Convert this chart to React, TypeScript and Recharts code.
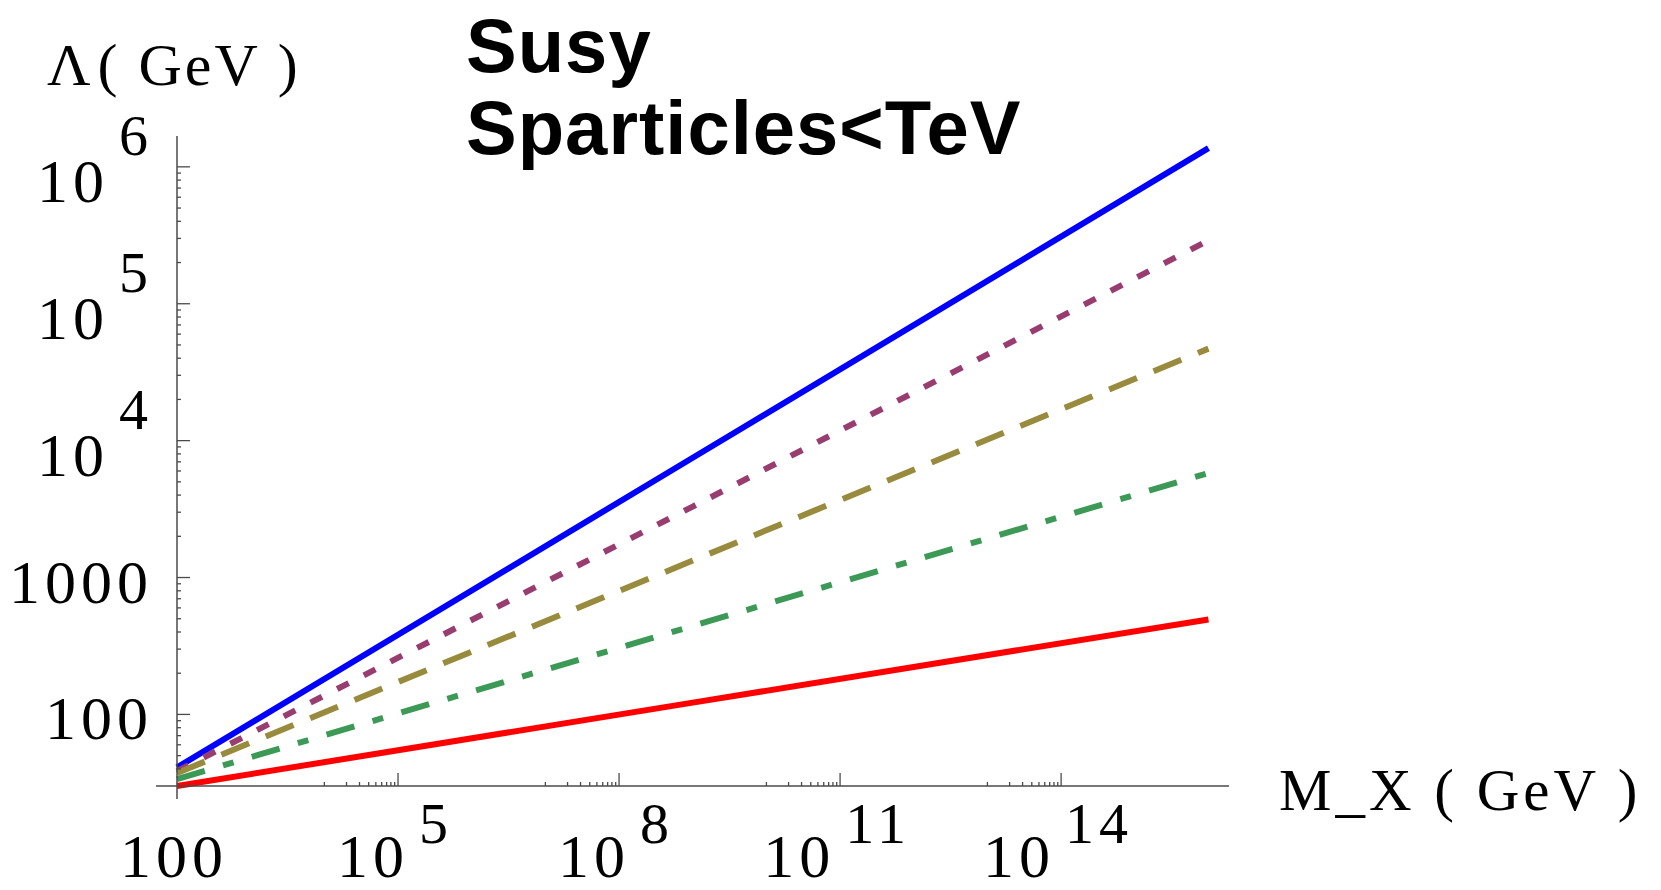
import { LineChart, Line, XAxis, YAxis } from "recharts";

// M_X (GeV) sample points and Λ (GeV) values
const mx = [1e2, 1e9, 1e16];
const blue = [41, 7.5e3, 1.37e6];
const purple = [38.5, 3.3e3, 2.9e5];
const olive = [37.3, 1.33e3, 4.7e4];
const green = [33.7, 443, 5.8e3];
const red = [30, 122, 494];

const xLabels = [100, 1e5, 1e8, 1e11, 1e14];
const xMajor = [1e5, 1e8, 1e11, 1e14];
const xMinorDecades = [1e4, 1e7, 1e10, 1e13];
const yLabels = [100, 1000, 1e4, 1e5, 1e6];
const yMinorDecades = [10, 100, 1000, 1e4, 1e5];
const steps = [1, 2, 3, 4, 5, 6, 7, 8, 9];

const X_DOMAIN = [100, 1.9e16];
const Y_DOMAIN = [30, 1.68e6];

const xTicks = [
  ...xLabels,
  ...xMinorDecades.flatMap((d) => steps.map((k) => d * k)).filter((v) => !xMajor.includes(v)),
].sort((a, b) => a - b);

const yTicks = [
  30,
  ...yLabels,
  ...yMinorDecades.flatMap((d) => steps.slice(1).map((k) => d * k)),
]
  .filter((v) => v >= Y_DOMAIN[0] && v <= Y_DOMAIN[1])
  .filter((v, i, a) => a.indexOf(v) === i)
  .sort((a, b) => a - b);

const data = mx.map((m, i) => ({
  mx: m,
  blue: blue[i],
  purple: purple[i],
  olive: olive[i],
  green: green[i],
  red: red[i],
}));

const AXIS = "#4a4a4a";
const SERIF = "'Liberation Serif', 'DejaVu Serif', serif";

function TickText({ x, y, value, anchor, raise }: any) {
  const exp = Math.round(Math.log10(value));
  const plain = value < 1e4;
  return (
    <text
      x={x}
      y={y}
      textAnchor={anchor}
      fontFamily={SERIF}
      fontSize={62}
      letterSpacing={5}
      fill="#000"
    >
      {plain ? (
        String(value)
      ) : (
        <>
          <tspan>10</tspan>
          <tspan dx={10} dy={-raise} fontSize={58}>
            {exp}
          </tspan>
        </>
      )}
    </text>
  );
}

function XTick(props: any) {
  const { x, y, payload } = props;
  const v = payload.value;
  const major = xMajor.includes(v);
  const label = xLabels.includes(v);
  return (
    <g>
      {v === 100 ? (
        <line x1={x - 21} x2={x} y1={y} y2={y} stroke={AXIS} strokeWidth={1.5} />
      ) : (
        <line x1={x} x2={x} y1={y} y2={y - (major ? 13 : 4)} stroke={AXIS} strokeWidth={1.3} />
      )}
      {label && <TickText x={x - 3} y={y + 91} value={v} anchor="middle" raise={34} />}
    </g>
  );
}

function YTick(props: any) {
  const { x, y, payload } = props;
  const v = payload.value;
  const major = yLabels.includes(v);
  if (v === 30) {
    return <line x1={x} x2={x} y1={y} y2={y + 13} stroke={AXIS} strokeWidth={1.5} />;
  }
  return (
    <g>
      <line x1={x} x2={x + (major ? 13 : 4)} y1={y} y2={y} stroke={AXIS} strokeWidth={1.3} />
      {major && (
        <TickText
          x={x - 24}
          y={y + (v < 1e4 ? 25 : 35)}
          value={v}
          anchor="end"
          raise={47}
        />
      )}
    </g>
  );
}

export default function App() {
  return (
    <div style={{ position: "relative", width: 1661, height: 890, background: "#fff" }}>
      <style>{"body{margin:0;overflow:hidden;background:#fff}"}</style>
      <LineChart
        width={1661}
        height={890}
        data={data}
        margin={{ top: 136, right: 432, bottom: 103, left: 176 }}
      >
        <XAxis
          dataKey="mx"
          type="number"
          scale="log"
          domain={X_DOMAIN}
          ticks={xTicks}
          interval={0}
          height={1}
          tickSize={0}
          tickMargin={0}
          tickLine={false}
          axisLine={{ stroke: AXIS, strokeWidth: 1.5 }}
          tick={(p: any) => <XTick {...p} />}
        />
        <YAxis
          type="number"
          scale="log"
          domain={Y_DOMAIN}
          ticks={yTicks}
          interval={0}
          width={1}
          tickSize={0}
          tickMargin={0}
          tickLine={false}
          axisLine={{ stroke: AXIS, strokeWidth: 1.5 }}
          tick={(p: any) => <YTick {...p} />}
        />
        <Line dataKey="blue" stroke="#0000ff" strokeWidth={6} dot={false} isAnimationActive={false} />
        <Line
          dataKey="purple"
          stroke="#993d71"
          strokeWidth={6}
          strokeDasharray="13 17"
          dot={false}
          isAnimationActive={false}
        />
        <Line
          dataKey="olive"
          stroke="#998b3d"
          strokeWidth={6}
          strokeDasharray="30 18"
          dot={false}
          isAnimationActive={false}
        />
        <Line
          dataKey="green"
          stroke="#3d9956"
          strokeWidth={6}
          strokeDasharray="29 19 11 19"
          dot={false}
          isAnimationActive={false}
        />
        <Line dataKey="red" stroke="#ff0000" strokeWidth={6} dot={false} isAnimationActive={false} />
      </LineChart>
      <svg
        width={1661}
        height={890}
        style={{ position: "absolute", left: 0, top: 0, pointerEvents: "none" }}
      >
        <text
          x={466}
          y={72}
          fontFamily="'Liberation Sans', Arial, sans-serif"
          fontWeight="bold"
          fontSize={76}
          letterSpacing={1}
        >
          Susy
        </text>
        <text
          x={466}
          y={154}
          fontFamily="'Liberation Sans', Arial, sans-serif"
          fontWeight="bold"
          fontSize={76}
          letterSpacing={1}
        >
          {"Sparticles<TeV"}
        </text>
        <text x={47} y={85} fontFamily={SERIF} fontSize={60} letterSpacing={3}>
          <tspan>Λ</tspan>
          <tspan dx={4}>( GeV )</tspan>
        </text>
        <text x={1279} y={810} fontFamily={SERIF} fontSize={59} letterSpacing={4}>
          M_X ( GeV )
        </text>
      </svg>
    </div>
  );
}
